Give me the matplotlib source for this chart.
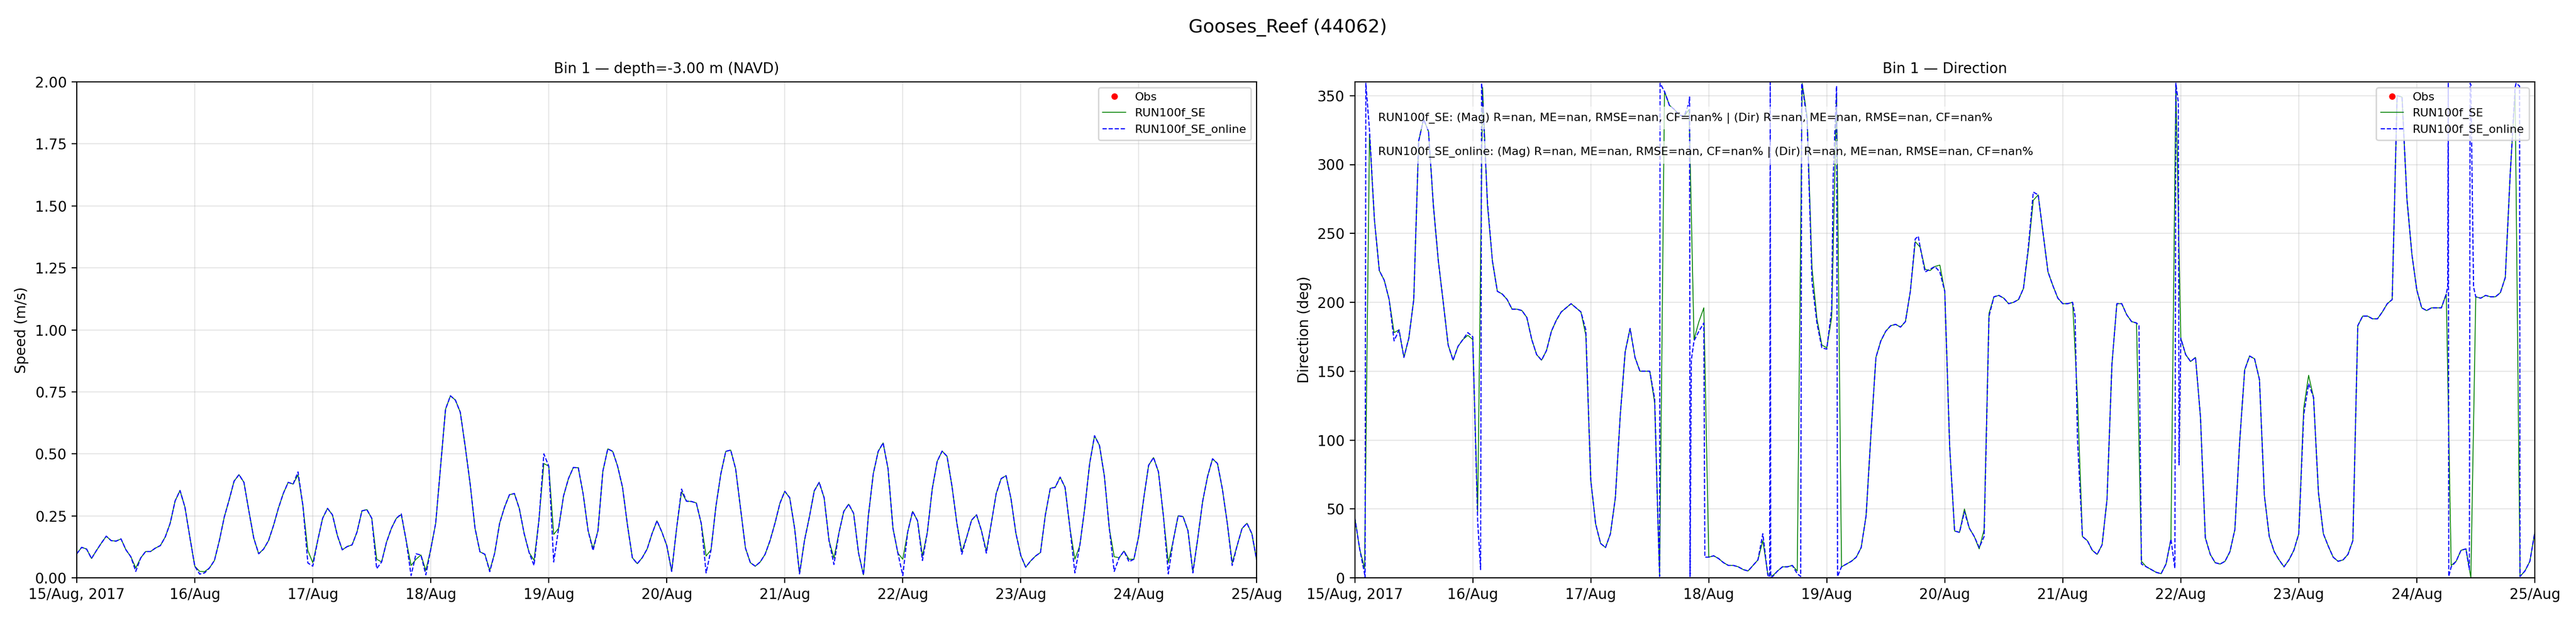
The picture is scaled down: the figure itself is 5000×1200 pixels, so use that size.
import numpy as np
import pandas as pd
import matplotlib
matplotlib.use("Agg")
import matplotlib.pyplot as plt
import matplotlib.dates as mdates
from matplotlib.ticker import FuncFormatter

# hourly model output, 15 Aug 2017 00:00 -> 25 Aug 2017 00:00
start = pd.Timestamp("2017-08-15 00:00")
hours = np.arange(241)

spd_se = [
    0.097, 0.123, 0.116, 0.078, 0.11, 0.14, 0.168, 0.15, 0.148, 0.157, 0.113, 0.085,
    0.04, 0.08, 0.106, 0.106, 0.12, 0.13, 0.165, 0.22, 0.31, 0.352, 0.285, 0.164,
    0.047, 0.026, 0.025, 0.04, 0.07, 0.15, 0.245, 0.315, 0.39, 0.416, 0.385, 0.27,
    0.16, 0.097, 0.116, 0.15, 0.21, 0.28, 0.34, 0.385, 0.378, 0.415, 0.29, 0.11,
    0.061, 0.15, 0.24, 0.28, 0.254, 0.171, 0.113, 0.126, 0.133, 0.185, 0.27, 0.275,
    0.24, 0.075, 0.064, 0.144, 0.2, 0.24, 0.255, 0.15, 0.05, 0.075, 0.092, 0.03,
    0.116, 0.22, 0.45, 0.68, 0.734, 0.717, 0.668, 0.53, 0.38, 0.2, 0.105, 0.095,
    0.03, 0.1, 0.22, 0.285, 0.335, 0.34, 0.28, 0.178, 0.102, 0.071, 0.233, 0.461,
    0.45, 0.175, 0.2, 0.33, 0.4, 0.445, 0.444, 0.337, 0.19, 0.119, 0.19, 0.43,
    0.52, 0.51, 0.45, 0.365, 0.213, 0.081, 0.057, 0.081, 0.116, 0.178, 0.23, 0.185,
    0.13, 0.026, 0.2, 0.347, 0.309, 0.308, 0.302, 0.22, 0.088, 0.113, 0.289, 0.42,
    0.51, 0.515, 0.44, 0.28, 0.12, 0.061, 0.047, 0.064, 0.095, 0.15, 0.22, 0.3,
    0.349, 0.323, 0.2, 0.016, 0.15, 0.245, 0.351, 0.385, 0.323, 0.15, 0.08, 0.18,
    0.268, 0.297, 0.26, 0.1, 0.012, 0.25, 0.42, 0.51, 0.544, 0.44, 0.2, 0.1,
    0.075, 0.185, 0.268, 0.23, 0.088, 0.185, 0.36, 0.47, 0.511, 0.49, 0.37, 0.22,
    0.106, 0.164, 0.233, 0.254, 0.19, 0.109, 0.22, 0.34, 0.4, 0.412, 0.32, 0.18,
    0.09, 0.043, 0.068, 0.088, 0.102, 0.254, 0.361, 0.365, 0.406, 0.365, 0.2, 0.075,
    0.13, 0.28, 0.46, 0.573, 0.534, 0.41, 0.2, 0.085, 0.081, 0.108, 0.075, 0.075,
    0.17, 0.32, 0.454, 0.485, 0.427, 0.25, 0.061, 0.15, 0.25, 0.247, 0.19, 0.026,
    0.16, 0.31, 0.41, 0.48, 0.461, 0.358, 0.22, 0.061, 0.13, 0.199, 0.22, 0.178,
    0.068,
]

spd_online = [
    0.097, 0.123, 0.116, 0.078, 0.11, 0.14, 0.168, 0.15, 0.148, 0.157, 0.113, 0.085,
    0.026, 0.08, 0.106, 0.106, 0.12, 0.13, 0.165, 0.22, 0.31, 0.352, 0.285, 0.164,
    0.047, 0.015, 0.02, 0.04, 0.07, 0.15, 0.245, 0.315, 0.39, 0.416, 0.385, 0.27,
    0.16, 0.097, 0.116, 0.15, 0.21, 0.28, 0.34, 0.385, 0.378, 0.427, 0.29, 0.06,
    0.047, 0.15, 0.24, 0.28, 0.254, 0.171, 0.113, 0.126, 0.133, 0.185, 0.27, 0.275,
    0.24, 0.037, 0.064, 0.144, 0.2, 0.24, 0.258, 0.15, 0.009, 0.097, 0.092, 0.012,
    0.116, 0.22, 0.45, 0.68, 0.734, 0.717, 0.668, 0.53, 0.38, 0.2, 0.105, 0.095,
    0.025, 0.1, 0.22, 0.285, 0.335, 0.34, 0.28, 0.178, 0.102, 0.05, 0.233, 0.5,
    0.45, 0.064, 0.2, 0.33, 0.4, 0.445, 0.444, 0.337, 0.19, 0.11, 0.19, 0.43,
    0.52, 0.51, 0.45, 0.365, 0.213, 0.081, 0.057, 0.081, 0.116, 0.178, 0.23, 0.185,
    0.13, 0.026, 0.2, 0.358, 0.309, 0.308, 0.302, 0.22, 0.02, 0.113, 0.289, 0.42,
    0.51, 0.515, 0.44, 0.28, 0.12, 0.061, 0.047, 0.064, 0.095, 0.15, 0.22, 0.3,
    0.349, 0.323, 0.2, 0.016, 0.15, 0.245, 0.351, 0.385, 0.323, 0.15, 0.054, 0.18,
    0.268, 0.297, 0.26, 0.1, 0.012, 0.25, 0.42, 0.51, 0.544, 0.44, 0.2, 0.1,
    0.009, 0.185, 0.268, 0.23, 0.07, 0.185, 0.36, 0.47, 0.511, 0.49, 0.37, 0.22,
    0.095, 0.164, 0.233, 0.254, 0.19, 0.1, 0.22, 0.34, 0.4, 0.412, 0.32, 0.18,
    0.09, 0.043, 0.068, 0.088, 0.102, 0.254, 0.361, 0.365, 0.406, 0.365, 0.2, 0.02,
    0.13, 0.28, 0.46, 0.573, 0.534, 0.41, 0.2, 0.026, 0.081, 0.108, 0.065, 0.075,
    0.17, 0.32, 0.454, 0.485, 0.427, 0.25, 0.016, 0.15, 0.25, 0.247, 0.19, 0.02,
    0.16, 0.31, 0.41, 0.48, 0.461, 0.358, 0.22, 0.05, 0.13, 0.199, 0.22, 0.178,
    0.068,
]

dir_se = [
    44, 21, 7, 322, 260, 223, 216, 202, 178, 180, 160, 174,
    202, 317, 333, 324, 270, 230, 200, 169, 158, 168, 173, 176,
    173, 48, 356, 270, 230, 208, 206, 202, 195, 195, 194, 189,
    173, 162, 158, 165, 179, 187, 193, 196, 199, 196, 193, 176,
    71, 39, 25, 22, 32, 58, 118, 164, 181, 160, 150, 150,
    150, 127, 1, 353, 343, 340, 336, 335, 340, 173, 186, 196,
    15, 16, 14, 11, 9, 9, 8, 6, 5, 9, 13, 27,
    3, 1.5, 5, 8, 8, 9, 5, 359, 335, 225, 188, 169,
    167, 189, 352, 8, 10, 12, 15, 22, 45, 105, 160, 172,
    179, 183, 184, 182, 186, 208, 244, 240, 224, 223, 226, 227,
    208, 95, 34, 33, 50, 36, 30, 21, 35, 192, 204, 205,
    203, 199, 200, 202, 210, 238, 274, 278, 250, 222, 212, 203,
    199, 199, 200, 130, 30, 27, 20, 17, 24, 57, 155, 199,
    199, 191, 186, 185, 12, 8, 6, 4, 3, 10, 28, 358,
    174, 162, 157, 160, 117, 29, 17, 11, 10, 12, 19, 35,
    100, 151, 161, 159, 144, 60, 30, 19, 13, 8, 13, 20,
    32, 123, 147, 131, 62, 32, 23, 15, 12, 13, 17, 27,
    183, 190, 190, 188, 188, 193, 199, 202, 350, 349, 275, 235,
    209, 196, 194, 196, 196, 196, 206, 9, 12, 20, 21, 0,
    204, 203, 205, 204, 204, 207, 218, 293, 352, 1, 5, 12,
    33,
]

dir_online = [
    44, 21, 3, 325, 260, 223, 216, 202, 172, 180, 160, 174,
    202, 317, 333, 324, 270, 230, 200, 169, 158, 168, 173, 178,
    175, 41, 348, 272, 230, 208, 206, 202, 195, 195, 194, 189,
    173, 162, 158, 165, 179, 187, 193, 196, 199, 196, 193, 180,
    71, 39, 25, 22, 32, 58, 118, 164, 181, 160, 150, 150,
    150, 130, 1, 353, 343, 340, 336, 335, 345, 172, 179, 185,
    15, 16, 14, 11, 9, 9, 8, 6, 5, 9, 13, 32,
    2, 1, 5, 8, 8, 9, 3, 358, 332, 215, 185, 167,
    166, 195, 357, 8, 10, 12, 15, 22, 45, 105, 160, 172,
    179, 183, 184, 182, 186, 208, 246, 240, 222, 224, 226, 222,
    208, 95, 34, 33, 48, 36, 30, 22, 30, 190, 204, 205,
    203, 199, 200, 202, 210, 240, 280, 278, 250, 222, 212, 203,
    199, 199, 200, 100, 30, 27, 20, 17, 24, 57, 155, 199,
    199, 191, 186, 185, 10, 8, 6, 4, 3, 10, 28, 359,
    174, 162, 157, 160, 117, 29, 17, 11, 10, 12, 19, 35,
    100, 151, 161, 159, 144, 60, 30, 19, 13, 8, 13, 20,
    32, 118, 141, 131, 62, 32, 23, 15, 12, 13, 17, 27,
    183, 190, 190, 188, 188, 193, 199, 202, 350, 349, 275, 235,
    209, 196, 194, 196, 196, 196, 206, 8, 12, 20, 21, 358,
    204, 203, 205, 204, 204, 207, 218, 293, 356, 1, 5, 12,
    33,
]

# sub-hourly points of the online run (wraps through 0/360)
dir_online_extra_t = [2.1, 2.25, 25.6, 25.8, 61.7, 62.1, 68.1, 68.2, 68.45, 71.2,
                      84.4, 84.5, 84.6, 90.7, 90.9, 97.3, 98.2, 114.6, 146.5, 159.5,
                      166.8, 167.5, 167.65, 222.3, 222.4, 222.5, 226.7, 226.85,
                      227.55, 236.2, 236.9]
dir_online_extra = [0, 359, 6, 359, 36, 359, 349, 1, 158, 15,
                    0.5, 359.5, 0.5, 1, 359, 290, 1, 248, 190, 183,
                    7, 345, 82, 212, 359, 1, 6, 359,
                    211, 359, 357]

site_title = "Gooses_Reef (44062)"
stats_lines = [
    "RUN100f_SE: (Mag) R=nan, ME=nan, RMSE=nan, CF=nan% | (Dir) R=nan, ME=nan, RMSE=nan, CF=nan%",
    "RUN100f_SE_online: (Mag) R=nan, ME=nan, RMSE=nan, CF=nan% | (Dir) R=nan, ME=nan, RMSE=nan, CF=nan%",
]


def to_time(h):
    return (start + pd.to_timedelta(np.asarray(h, dtype=float), unit="h")).to_numpy()


t_hr = to_time(hours)
t_on = np.concatenate([hours, dir_online_extra_t]).astype(float)
v_on = np.concatenate([dir_online, dir_online_extra]).astype(float)
order = np.argsort(t_on, kind="stable")
t_on_dir = to_time(t_on[order])
v_on_dir = v_on[order]


def day_label(x, pos=None):
    d = mdates.num2date(x)
    if d.day == 15:
        return d.strftime("%d/%b, %Y")
    return d.strftime("%d/%b")


fig, (ax1, ax2) = plt.subplots(1, 2, figsize=(25, 6), dpi=200)
fig.subplots_adjust(left=0.0298, right=0.984, bottom=0.065, top=0.8675, wspace=0.083)

# speed
ax1.plot([], [], "r.", ms=7, label="Obs")
ax1.plot(t_hr, spd_se, color="green", lw=0.6, label="RUN100f_SE")
ax1.plot(t_hr, spd_online, color="blue", ls="--", lw=0.8, label="RUN100f_SE_online")
ax1.set_ylim(0, 2)
ax1.set_ylabel("Speed (m/s)")
ax1.set_title("Bin 1 \u2014 depth=-3.00 m (NAVD)", fontsize=10)
ax1.legend(loc="upper right", fontsize=8)

# direction
ax2.plot([], [], "r.", ms=7, label="Obs")
ax2.plot(t_hr, dir_se, color="green", lw=0.6, label="RUN100f_SE")
ax2.plot(t_on_dir, v_on_dir, color="blue", ls="--", lw=0.8, label="RUN100f_SE_online")
ax2.set_ylim(0, 360)
ax2.set_ylabel("Direction (deg)")
ax2.set_title("Bin 1 \u2014 Direction", fontsize=10)
ax2.legend(loc="upper right", fontsize=8)
for i, line in enumerate(stats_lines):
    ax2.text(0.02, 0.927 - i * 0.069, line, transform=ax2.transAxes, fontsize=8,
             va="center", ha="left",
             bbox=dict(facecolor="white", alpha=0.7, edgecolor="none"))

for ax in (ax1, ax2):
    ax.set_xlim(to_time([0])[0], to_time([240])[0])
    ax.xaxis.set_major_locator(mdates.DayLocator())
    ax.xaxis.set_major_formatter(FuncFormatter(day_label))
    ax.grid(True, alpha=0.3)

fig.suptitle(site_title, fontsize=13, y=0.97)
fig.savefig("out.png", dpi=200)
